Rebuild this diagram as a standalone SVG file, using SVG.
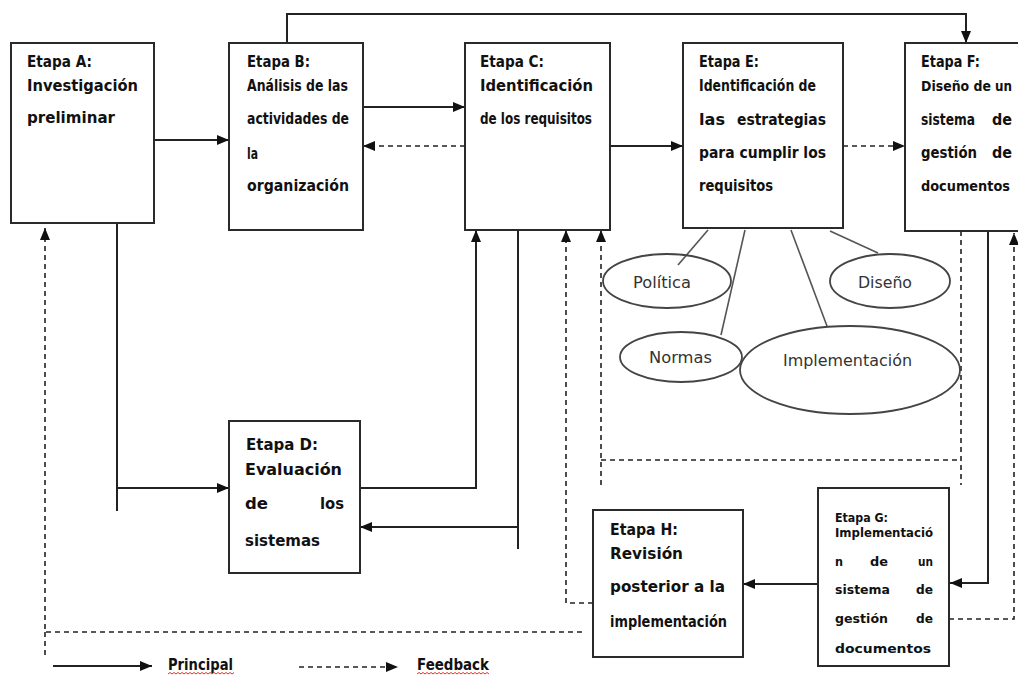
<svg xmlns="http://www.w3.org/2000/svg" width="1018" height="675" viewBox="0 0 1018 675">
  <style>
    .box { fill: #ffffff; stroke: #2a2a2a; stroke-width: 2; }
    .t { font-family: "DejaVu Sans", "Liberation Sans", sans-serif; font-weight: bold; font-size: 15px; fill: #111; }
    .td { font-size: 16px; }
    .tg { font-size: 13px; }
    .tf { font-size: 13.5px; }
    .lbl { font-family: "DejaVu Sans", "Liberation Sans", sans-serif; font-size: 15px; fill: #333; }
    .main { fill: none; stroke: #222; stroke-width: 2; }
    .fb { fill: none; stroke: #222; stroke-width: 1.6; stroke-dasharray: 5 4; }
    .spoke { fill: none; stroke: #555; stroke-width: 1.6; }
    .oval { fill: none; stroke: #444; stroke-width: 1.8; }
    .squig { fill: none; stroke: #e03030; stroke-width: 1; }
  </style>
  <defs>
    <marker id="arrow" viewBox="0 0 12 10" refX="12" refY="5" markerWidth="12" markerHeight="10" markerUnits="userSpaceOnUse" orient="auto">
      <path d="M0,0 L12,5 L0,10 z" fill="#111"/>
    </marker>
  </defs>

  <rect width="1018" height="675" fill="#ffffff"/>

  <!-- connectors -->
  <g id="connectors">
    <!-- principal flow -->
    <path class="main" d="M154,140 H229" marker-end="url(#arrow)"/>
    <path class="main" d="M363,107 H465" marker-end="url(#arrow)"/>
    <path class="main" d="M610,146 H683" marker-end="url(#arrow)"/>
    <path class="main" d="M287,43 V14 H966 V43" marker-end="url(#arrow)"/>
    <path class="main" d="M117,223 V511"/>
    <path class="main" d="M117,488 H229" marker-end="url(#arrow)"/>
    <path class="main" d="M360,488 H476 V230" marker-end="url(#arrow)"/>
    <path class="main" d="M518,230 V549"/>
    <path class="main" d="M518,527 H360" marker-end="url(#arrow)"/>
    <path class="main" d="M988,231 V583 H950" marker-end="url(#arrow)"/>
    <path class="main" d="M818,584 H743" marker-end="url(#arrow)"/>

    <!-- feedback -->
    <path class="fb" d="M465,146 H363" marker-end="url(#arrow)"/>
    <path class="fb" d="M843,146 H905" marker-end="url(#arrow)"/>
    <path class="fb" d="M593,603 H566 V230" marker-end="url(#arrow)"/>
    <path class="fb" d="M961,231 V485"/>
    <path class="fb" d="M601,485 V230" marker-end="url(#arrow)"/>
    <path class="fb" d="M601,460 H961"/>
    <path class="fb" d="M949,619 H1014 V233" marker-end="url(#arrow)"/>
    <path class="fb" d="M582,632 H45 V228" marker-end="url(#arrow)"/>
    <path class="fb" d="M45,632 V656"/>

    <!-- strategy spokes -->
    <path class="spoke" d="M708,230 L678,265"/>
    <path class="spoke" d="M745,230 L721,335"/>
    <path class="spoke" d="M791,230 L827,326"/>
    <path class="spoke" d="M830,231 L878,253"/>
  </g>

  <!-- stage boxes -->
  <g id="etapa-a">
    <rect class="box" x="11" y="43" width="143" height="180"/>
    <text class="t" x="27" y="67" textLength="65" lengthAdjust="spacingAndGlyphs">Etapa A:</text>
    <text class="t" x="27" y="91" textLength="111" lengthAdjust="spacingAndGlyphs">Investigación</text>
    <text class="t" x="27" y="123" textLength="88" lengthAdjust="spacingAndGlyphs">preliminar</text>
  </g>

  <g id="etapa-b">
    <rect class="box" x="229" y="43" width="134" height="187"/>
    <text class="t" x="247" y="67" textLength="63" lengthAdjust="spacingAndGlyphs">Etapa B:</text>
    <text class="t" x="247" y="91" textLength="101" lengthAdjust="spacingAndGlyphs">Análisis de las</text>
    <text class="t" x="247" y="124" textLength="102" lengthAdjust="spacingAndGlyphs">actividades de</text>
    <text class="t" x="247" y="159" textLength="11" lengthAdjust="spacingAndGlyphs">la</text>
    <text class="t" x="247" y="191" textLength="102" lengthAdjust="spacingAndGlyphs">organización</text>
  </g>

  <g id="etapa-c">
    <rect class="box" x="465" y="43" width="145" height="187"/>
    <text class="t" x="480" y="67" textLength="64" lengthAdjust="spacingAndGlyphs">Etapa C:</text>
    <text class="t" x="480" y="91" textLength="113" lengthAdjust="spacingAndGlyphs">Identificación</text>
    <text class="t" x="480" y="124" textLength="112" lengthAdjust="spacingAndGlyphs">de los requisitos</text>
  </g>

  <g id="etapa-e">
    <rect class="box" x="683" y="43" width="160" height="185"/>
    <text class="t" x="699" y="67" textLength="60" lengthAdjust="spacingAndGlyphs">Etapa E:</text>
    <text class="t" x="699" y="91" textLength="117" lengthAdjust="spacingAndGlyphs">Identificación de</text>
    <text class="t" x="699" y="125" textLength="26" lengthAdjust="spacingAndGlyphs">las</text>
    <text class="t" x="737" y="125" textLength="89" lengthAdjust="spacingAndGlyphs">estrategias</text>
    <text class="t" x="699" y="158" textLength="127" lengthAdjust="spacingAndGlyphs">para cumplir los</text>
    <text class="t" x="699" y="191" textLength="74" lengthAdjust="spacingAndGlyphs">requisitos</text>
  </g>

  <g id="etapa-f">
    <rect class="box" x="905" y="43" width="125" height="188"/>
    <text class="t" x="921" y="67" textLength="59" lengthAdjust="spacingAndGlyphs">Etapa F:</text>
    <text class="t tf" x="921" y="91" textLength="70" lengthAdjust="spacingAndGlyphs">Diseño de</text>
    <text class="t tf" x="995" y="91" textLength="17" lengthAdjust="spacingAndGlyphs">un</text>
    <text class="t" x="921" y="125" textLength="54" lengthAdjust="spacingAndGlyphs">sistema</text>
    <text class="t" x="992" y="125" textLength="20" lengthAdjust="spacingAndGlyphs">de</text>
    <text class="t" x="921" y="158" textLength="56" lengthAdjust="spacingAndGlyphs">gestión</text>
    <text class="t" x="992" y="158" textLength="20" lengthAdjust="spacingAndGlyphs">de</text>
    <text class="t tf" x="921" y="191" textLength="89" lengthAdjust="spacingAndGlyphs">documentos</text>
  </g>

  <g id="etapa-d">
    <rect class="box" x="229" y="421" width="131" height="152"/>
    <text class="t td" x="246" y="450" textLength="72" lengthAdjust="spacingAndGlyphs">Etapa D:</text>
    <text class="t td" x="245" y="475" textLength="97" lengthAdjust="spacingAndGlyphs">Evaluación</text>
    <text class="t td" x="245" y="509" textLength="23" lengthAdjust="spacingAndGlyphs">de</text>
    <text class="t td" x="320" y="509" textLength="24" lengthAdjust="spacingAndGlyphs">los</text>
    <text class="t td" x="245" y="546" textLength="75" lengthAdjust="spacingAndGlyphs">sistemas</text>
  </g>

  <g id="etapa-g">
    <rect class="box" x="818" y="488" width="131" height="178"/>
    <text class="t tg" x="835" y="522" textLength="53" lengthAdjust="spacingAndGlyphs">Etapa G:</text>
    <text class="t tg" x="835" y="537" textLength="98" lengthAdjust="spacingAndGlyphs">Implementació</text>
    <text class="t tg" x="835" y="566" textLength="8" lengthAdjust="spacingAndGlyphs">n</text>
    <text class="t tg" x="870" y="566" textLength="18" lengthAdjust="spacingAndGlyphs">de</text>
    <text class="t tg" x="918" y="566" textLength="15" lengthAdjust="spacingAndGlyphs">un</text>
    <text class="t tg" x="835" y="594" textLength="55" lengthAdjust="spacingAndGlyphs">sistema</text>
    <text class="t tg" x="916" y="594" textLength="17" lengthAdjust="spacingAndGlyphs">de</text>
    <text class="t tg" x="835" y="623" textLength="53" lengthAdjust="spacingAndGlyphs">gestión</text>
    <text class="t tg" x="916" y="623" textLength="17" lengthAdjust="spacingAndGlyphs">de</text>
    <text class="t tg" x="835" y="653" textLength="96" lengthAdjust="spacingAndGlyphs">documentos</text>
  </g>

  <g id="etapa-h">
    <rect class="box" x="593" y="510" width="150" height="147"/>
    <text class="t" x="610" y="535" textLength="68" lengthAdjust="spacingAndGlyphs">Etapa H:</text>
    <text class="t" x="610" y="559" textLength="73" lengthAdjust="spacingAndGlyphs">Revisión</text>
    <text class="t" x="610" y="592" textLength="115" lengthAdjust="spacingAndGlyphs">posterior a la</text>
    <text class="t" x="610" y="627" textLength="117" lengthAdjust="spacingAndGlyphs">implementación</text>
  </g>

  <!-- strategy components -->
  <g id="politica">
    <ellipse class="oval" cx="667" cy="281" rx="64" ry="27"/>
    <text class="lbl" x="633" y="288" textLength="58" lengthAdjust="spacingAndGlyphs">Política</text>
  </g>
  <g id="diseno">
    <ellipse class="oval" cx="890" cy="281" rx="60" ry="27"/>
    <text class="lbl" x="858" y="288" textLength="54" lengthAdjust="spacingAndGlyphs">Diseño</text>
  </g>
  <g id="normas">
    <ellipse class="oval" cx="681" cy="357" rx="61" ry="25"/>
    <text class="lbl" x="649" y="363" textLength="63" lengthAdjust="spacingAndGlyphs">Normas</text>
  </g>
  <g id="implementacion">
    <ellipse class="oval" cx="850" cy="370" rx="110" ry="44"/>
    <text class="lbl" x="783" y="366" textLength="129" lengthAdjust="spacingAndGlyphs">Implementación</text>
  </g>

  <!-- key -->
  <g id="legend">
    <path class="main" d="M53,666 H152" marker-end="url(#arrow)"/>
    <text class="t" x="168" y="670" textLength="65" lengthAdjust="spacingAndGlyphs">Principal</text>
    <path class="squig" d="M168,674 l2,-1.5 l2,1.5 l2,-1.5 l2,1.5 l2,-1.5 l2,1.5 l2,-1.5 l2,1.5 l2,-1.5 l2,1.5 l2,-1.5 l2,1.5 l2,-1.5 l2,1.5 l2,-1.5 l2,1.5 l2,-1.5 l2,1.5 l2,-1.5 l2,1.5 l2,-1.5 l2,1.5 l2,-1.5 l2,1.5 l2,-1.5 l2,1.5 l2,-1.5 l2,1.5 l2,-1.5 l2,1.5 l2,-1.5 l2,1.5 l2,-1.5"/>
    <path class="fb" d="M299,667 H398" marker-end="url(#arrow)"/>
    <text class="t" x="417" y="670" textLength="72" lengthAdjust="spacingAndGlyphs">Feedback</text>
    <path class="squig" d="M417,674 l2,-1.5 l2,1.5 l2,-1.5 l2,1.5 l2,-1.5 l2,1.5 l2,-1.5 l2,1.5 l2,-1.5 l2,1.5 l2,-1.5 l2,1.5 l2,-1.5 l2,1.5 l2,-1.5 l2,1.5 l2,-1.5 l2,1.5 l2,-1.5 l2,1.5 l2,-1.5 l2,1.5 l2,-1.5 l2,1.5 l2,-1.5 l2,1.5 l2,-1.5 l2,1.5 l2,-1.5 l2,1.5 l2,-1.5 l2,1.5 l2,-1.5 l2,1.5 l2,-1.5 l2,1.5"/>
  </g>
</svg>
